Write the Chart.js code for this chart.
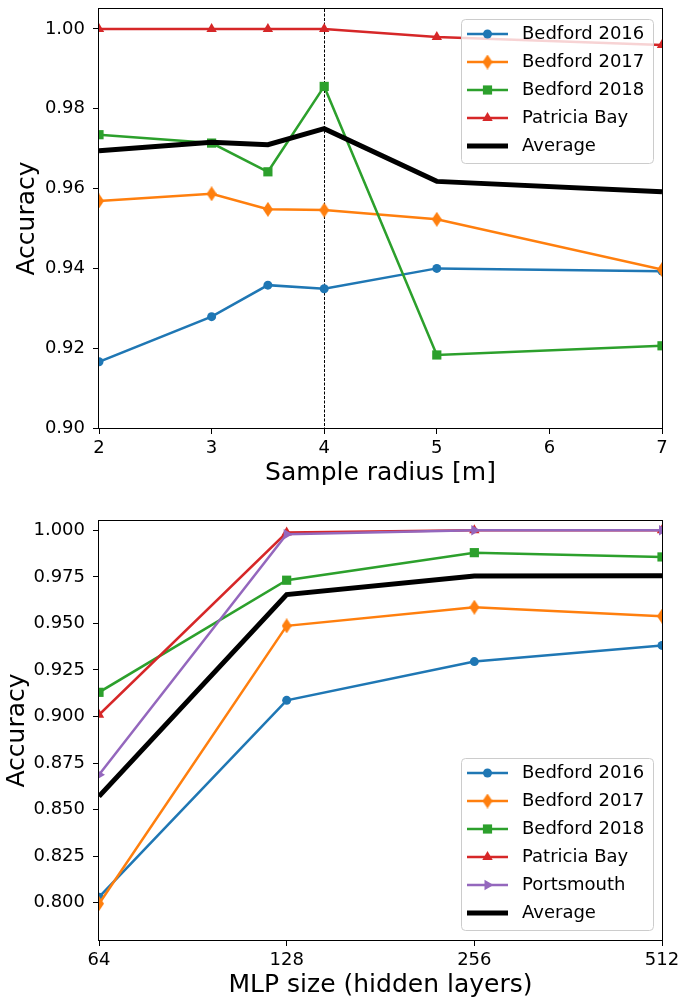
<!DOCTYPE html>
<html>
<head>
<meta charset="utf-8">
<script src="https://cdn.jsdelivr.net/npm/chart.js@4.4.0/dist/chart.umd.min.js"></script>
<style>
    body { margin: 0; background: #fff; }
    .panel { width: 681px; height: 500px; }
</style>
</head>
<body>
<div class="panel"><canvas id="radius-chart" width="681" height="500"></canvas></div>
<div class="panel"><canvas id="mlp-chart" width="681" height="500"></canvas></div>
<script>
'use strict';

// accuracy vs. sample radius
var radii             = [2, 3, 3.5, 4, 5, 7];
var radiusBedford2016 = [0.9166, 0.9279, 0.9358, 0.9349, 0.9400, 0.9393];
var radiusBedford2017 = [0.9569, 0.9587, 0.9548, 0.9546, 0.9523, 0.9397];
var radiusBedford2018 = [0.9735, 0.9714, 0.9642, 0.9856, 0.9183, 0.9206];
var radiusPatriciaBay = [1.000, 1.000, 1.000, 1.000, 0.998, 0.996];
var radiusAverage     = [0.9695, 0.9716, 0.9710, 0.9750, 0.9618, 0.9592];
var radiusTicksX      = [2, 3, 4, 5, 6, 7];
var radiusTicksY      = [0.90, 0.92, 0.94, 0.96, 0.98, 1.00];
var chosenRadius      = 4;

// accuracy vs. MLP size
var mlpSizes       = [64, 128, 256, 512];
var mlpBedford2016 = [0.8030, 0.9087, 0.9295, 0.9382];
var mlpBedford2017 = [0.7995, 0.9487, 0.9587, 0.9539];
var mlpBedford2018 = [0.9130, 0.9732, 0.9880, 0.9857];
var mlpPatriciaBay = [0.9009, 0.9988, 1.000, 1.000];
var mlpPortsmouth  = [0.8687, 0.9979, 1.000, 1.000];
var mlpAverage     = [0.8571, 0.9655, 0.9754, 0.9756];
var mlpTicksY      = [0.800, 0.825, 0.850, 0.875, 0.900, 0.925, 0.950, 0.975, 1.000];

Chart.defaults.font.family = "'DejaVu Sans', sans-serif";
Chart.defaults.color = '#000';

var colors = {
    blue: '#1f77b4',
    orange: '#ff7f0e',
    green: '#2ca02c',
    red: '#d62728',
    purple: '#9467bd',
    black: '#000000'
};

// matplotlib's thin diamond, as an image point style
function thinDiamond(color) {
    var c = document.createElement('canvas');
    c.width = 10;
    c.height = 15;
    var g = c.getContext('2d');
    g.fillStyle = color;
    g.beginPath();
    g.moveTo(5, 0);
    g.lineTo(10, 7.5);
    g.lineTo(5, 15);
    g.lineTo(0, 7.5);
    g.closePath();
    g.fill();
    return c;
}

var markers = {
    circle:   {pointStyle: 'circle', pointRadius: 4.5, pointRotation: 0},
    diamond:  {pointStyle: thinDiamond(colors.orange), pointRadius: 6, pointRotation: 0},
    square:   {pointStyle: 'rect', pointRadius: 6.5, pointRotation: 0},
    triangle: {pointStyle: 'triangle', pointRadius: 6, pointRotation: 0},
    right:    {pointStyle: 'triangle', pointRadius: 6, pointRotation: 90},
    none:     {pointStyle: false, pointRadius: 0, pointRotation: 0}
};

function series(label, xs, ys, color, marker, width) {
    return {
        label: label,
        data: xs.map(function (x, i) { return {x: x, y: ys[i]}; }),
        borderColor: color,
        backgroundColor: color,
        borderWidth: width || 2.5,
        pointStyle: marker.pointStyle,
        pointRadius: marker.pointRadius,
        pointRotation: marker.pointRotation,
        pointBackgroundColor: color,
        pointBorderWidth: 0,
        pointHoverRadius: marker.pointRadius,
        tension: 0,
        fill: false,
        clip: 0
    };
}

// later series sit on top, like the usual plotting order
function stackOrder(sets) {
    sets.forEach(function (ds, i) { ds.order = sets.length - i; });
    return sets;
}

// top and right spines plus the left/bottom ones
var frame = {
    id: 'frame',
    afterDatasetsDraw: function (chart) {
        var a = chart.chartArea, ctx = chart.ctx;
        ctx.save();
        ctx.strokeStyle = '#000';
        ctx.lineWidth = 1;
        ctx.strokeRect(a.left - 0.5, a.top - 0.5, a.right - a.left + 1, a.bottom - a.top + 1);
        ctx.restore();
    }
};

// dotted marker for the chosen radius
var radiusMarker = {
    id: 'radiusMarker',
    beforeDatasetsDraw: function (chart, args, opts) {
        if (opts.value === undefined) return;
        var a = chart.chartArea, ctx = chart.ctx;
        var x = Math.round(chart.scales.x.getPixelForValue(opts.value)) + 0.5;
        ctx.save();
        ctx.strokeStyle = '#000';
        ctx.lineWidth = 1;
        ctx.setLineDash([3, 1.5]);
        ctx.beginPath();
        ctx.moveTo(x, a.top);
        ctx.lineTo(x, a.bottom);
        ctx.stroke();
        ctx.restore();
    }
};

// framed legend inside the plot area
var boxLegend = {
    id: 'boxLegend',
    afterDatasetsDraw: function (chart, args, opts) {
        var ctx = chart.ctx, a = chart.chartArea, sets = chart.data.datasets;
        ctx.save();
        ctx.font = "18px 'DejaVu Sans', sans-serif";
        var textW = 0;
        sets.forEach(function (ds) { textW = Math.max(textW, ctx.measureText(ds.label).width); });
        var w = Math.round(61 + textW + 9), h = 15 + (sets.length - 1) * 28 + 17;
        var x = Math.round(a.right - 9 - w);
        var y = opts.position === 'top' ? Math.round(a.top + 10) : Math.round(a.bottom - 10 - h);

        ctx.beginPath();
        ctx.roundRect(x + 0.5, y + 0.5, w, h, 4);
        ctx.fillStyle = 'rgba(255,255,255,0.8)';
        ctx.fill();
        ctx.strokeStyle = '#cccccc';
        ctx.lineWidth = 1;
        ctx.stroke();

        sets.forEach(function (ds, i) {
            var cy = y + 15 + i * 28;
            ctx.beginPath();
            ctx.moveTo(x + 6, cy);
            ctx.lineTo(x + 47, cy);
            ctx.strokeStyle = ds.borderColor;
            ctx.lineWidth = ds.borderWidth;
            ctx.stroke();
            if (ds.pointRadius) {
                ctx.fillStyle = ds.pointBackgroundColor;
                Chart.helpers.drawPoint(ctx, {
                    pointStyle: ds.pointStyle,
                    radius: ds.pointRadius,
                    rotation: ds.pointRotation,
                    borderWidth: 0
                }, x + 26.5, cy);
            }
            ctx.fillStyle = '#000';
            ctx.textBaseline = 'middle';
            ctx.textAlign = 'left';
            ctx.fillText(ds.label, x + 61, cy);
        });
        ctx.restore();
    }
};

// the layout padding alone decides where the plot area sits
function noLabelPadding(scale) {
    scale.paddingTop = 0;
    scale.paddingBottom = 0;
    scale.paddingLeft = 0;
    scale.paddingRight = 0;
}

function yAxis(ticks, digits, min, max, titlePad) {
    return {
        type: 'linear',
        min: min,
        max: max,
        afterBuildTicks: function (scale) {
            scale.ticks = ticks.map(function (v) { return {value: v}; });
        },
        afterFit: function (scale) {
            scale.width = 99;
            noLabelPadding(scale);
        },
        border: {display: false},
        grid: {drawOnChartArea: false, drawTicks: true, tickLength: 6, color: '#000'},
        ticks: {
            padding: 8,
            font: {size: 18},
            callback: function (v) { return Number(v).toFixed(digits); }
        },
        title: {
            display: true,
            text: 'Accuracy',
            font: {size: 25},
            padding: {top: titlePad, bottom: 0}
        }
    };
}

function xAxis(opts) {
    return {
        type: opts.type,
        min: opts.min,
        max: opts.max,
        afterBuildTicks: function (scale) {
            scale.ticks = opts.ticks.map(function (v) { return {value: v}; });
        },
        afterFit: function (scale) {
            scale.height = opts.height;
            noLabelPadding(scale);
        },
        border: {display: false},
        grid: {drawOnChartArea: false, drawTicks: true, tickLength: 6, color: '#000'},
        ticks: {
            padding: 4,
            maxRotation: 0,
            autoSkip: false,
            font: {size: 18},
            callback: function (v) { return String(v); }
        },
        title: {
            display: true,
            text: opts.title,
            font: {size: 25},
            padding: {top: 0, bottom: opts.titlePad}
        }
    };
}

new Chart(document.getElementById('radius-chart'), {
    type: 'line',
    data: {
        datasets: stackOrder([
            series('Bedford 2016', radii, radiusBedford2016, colors.blue, markers.circle),
            series('Bedford 2017', radii, radiusBedford2017, colors.orange, markers.diamond),
            series('Bedford 2018', radii, radiusBedford2018, colors.green, markers.square),
            series('Patricia Bay', radii, radiusPatriciaBay, colors.red, markers.triangle),
            series('Average', radii, radiusAverage, colors.black, markers.none, 5)
        ])
    },
    options: {
        responsive: false,
        animation: false,
        events: [],
        layout: {padding: {top: 9, right: 19, left: 0, bottom: 0}},
        scales: {
            x: xAxis({type: 'linear', min: 2, max: 7, ticks: radiusTicksX, height: 72,
                      title: 'Sample radius [m]', titlePad: 12}),
            y: yAxis(radiusTicksY, 2, 0.90, 1.005, 12)
        },
        plugins: {
            legend: {display: false},
            tooltip: {enabled: false},
            radiusMarker: {value: chosenRadius},
            boxLegend: {position: 'top'}
        }
    },
    plugins: [radiusMarker, frame, boxLegend]
});

new Chart(document.getElementById('mlp-chart'), {
    type: 'line',
    data: {
        datasets: stackOrder([
            series('Bedford 2016', mlpSizes, mlpBedford2016, colors.blue, markers.circle),
            series('Bedford 2017', mlpSizes, mlpBedford2017, colors.orange, markers.diamond),
            series('Bedford 2018', mlpSizes, mlpBedford2018, colors.green, markers.square),
            series('Patricia Bay', mlpSizes, mlpPatriciaBay, colors.red, markers.triangle),
            series('Portsmouth', mlpSizes, mlpPortsmouth, colors.purple, markers.right),
            series('Average', mlpSizes, mlpAverage, colors.black, markers.none, 5)
        ])
    },
    options: {
        responsive: false,
        animation: false,
        events: [],
        layout: {padding: {top: 21, right: 19, left: 0, bottom: 0}},
        scales: {
            x: xAxis({type: 'logarithmic', min: 64, max: 512, ticks: mlpSizes, height: 60,
                      title: 'MLP size (hidden layers)', titlePad: 0}),
            y: yAxis(mlpTicksY, 3, 0.780, 1.005, 2.5)
        },
        plugins: {
            legend: {display: false},
            tooltip: {enabled: false},
            boxLegend: {position: 'bottom'}
        }
    },
    plugins: [frame, boxLegend]
});
</script>
</body>
</html>
